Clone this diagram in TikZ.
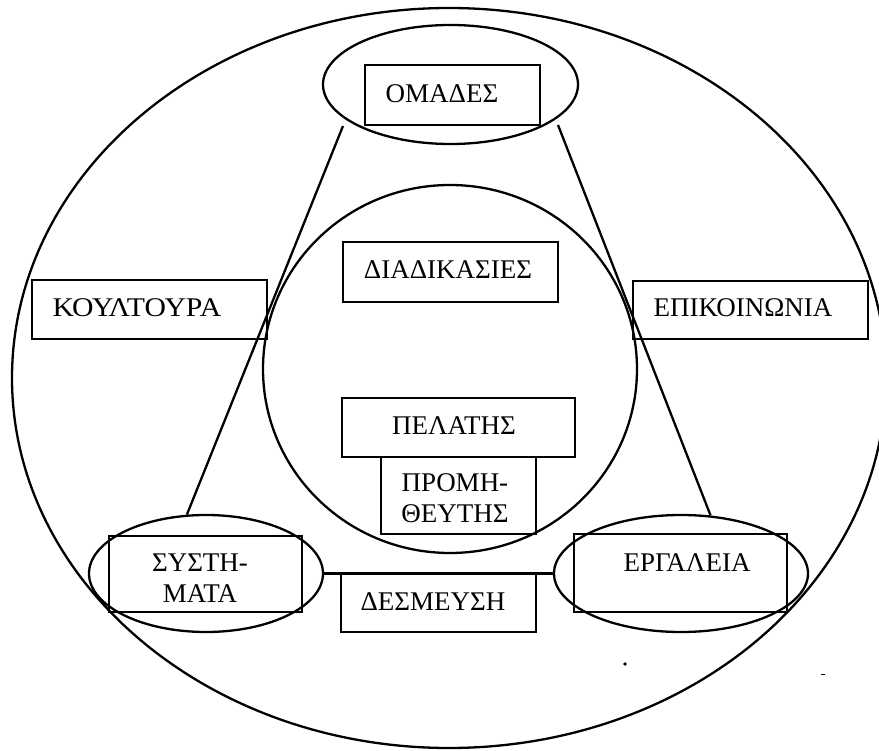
\documentclass[tikz,border=0pt]{standalone}
\usepackage{fontspec}
\setmainfont{Liberation Serif}
\usetikzlibrary{shapes.geometric}
\begin{document}
\begin{tikzpicture}[x=1pt,y=-1pt,line width=2.3pt,
  box/.style={draw,rectangle,inner sep=0pt},
  oval/.style={draw,ellipse,inner sep=0pt},
  lbl/.style={inner sep=0pt,font=\fontsize{27}{31}\selectfont,align=center}]
\useasboundingbox (0,0) rectangle (879,751);
\clip (0,0) rectangle (879,751);
% ellipses
\node[oval,minimum width=874pt,minimum height=740pt] (outer) at (449,378) {};
\node[oval,minimum width=255pt,minimum height=119pt] (omE) at (450.5,84.5) {};
\node[oval,minimum width=374pt,minimum height=368pt] (mid) at (450,369) {};
\node[oval,minimum width=234pt,minimum height=117pt] (sysE) at (206,573.5) {};
\node[oval,minimum width=254pt,minimum height=117pt] (ergE) at (681,573.5) {};
% boxes
\node[box,minimum width=175pt,minimum height=60pt] (omB) at (452.5,95) {};
\node[box,minimum width=215pt,minimum height=60pt] (diaB) at (450.5,272) {};
\node[box,minimum width=235pt,minimum height=59pt] (kouB) at (149.5,309.5) {};
\node[box,minimum width=235pt,minimum height=58pt] (epiB) at (750.5,310) {};
\node[box,minimum width=233pt,minimum height=59pt] (pelB) at (458.5,427.5) {};
\node[box,minimum width=155pt,minimum height=77pt] (proB) at (458.5,495.5) {};
\node[box,minimum width=193pt,minimum height=76pt] (sysB) at (205.5,574) {};
\node[box,minimum width=195pt,minimum height=59pt] (desB) at (438.5,602.5) {};
\node[box,minimum width=213pt,minimum height=78pt] (ergB) at (680.5,573) {};
% labels
\node[lbl] (omT) at (442,94) {ΟΜΑΔΕΣ};
\node[lbl] (diaT) at (448,270) {ΔΙΑΔΙΚΑΣΙΕΣ};
\node[lbl] (kouT) at (137,308) {\scalebox{1.1}[1]{ΚΟΥΛΤΟΥΡΑ}};
\node[lbl] (epiT) at (743,308) {ΕΠΙΚΟΙΝΩΝΙΑ};
\node[lbl] (pelT) at (454,426) {ΠΕΛΑΤΗΣ};
\node[lbl] (proT) at (455,498) {ΠΡΟΜΗ-\\ΘΕΥΤΗΣ};
\node[lbl] (sysT) at (200,578) {ΣΥΣΤΗ-\\ΜΑΤΑ};
\node[lbl] (desT) at (433,602) {ΔΕΣΜΕΥΣΗ};
\node[lbl] (ergT) at (687,563) {ΕΡΓΑΛΕΙΑ};
% connectors
\coordinate (l1) at (343,126);
\coordinate (r1) at (558,125);
\draw (l1) -- (sysE.108);
\draw (r1) -- (ergE.63);
\draw (sysE.east) -- (ergE.west);
% specks
\fill (625,664) circle (1.8);
\fill (821,673.5) rectangle (825,675);
\end{tikzpicture}
\end{document}
